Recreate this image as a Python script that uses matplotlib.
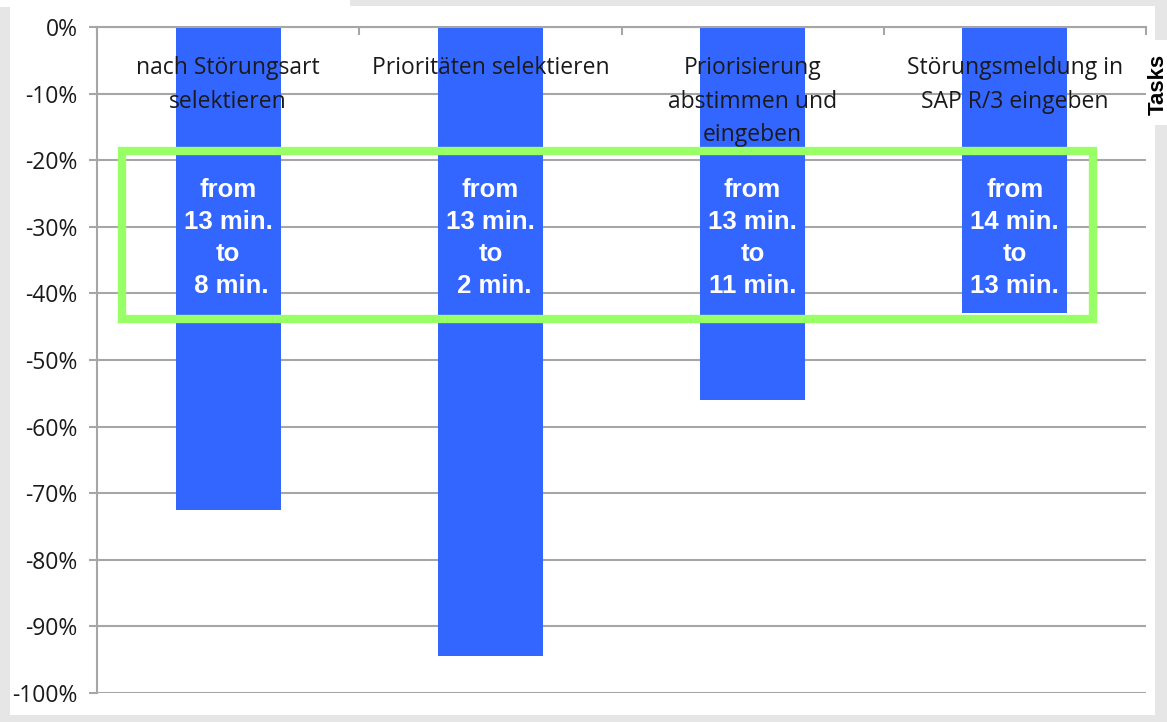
"""Reduction of task durations per task (bar chart with top axis)."""

import matplotlib.pyplot as plt
from matplotlib.patches import Rectangle
from matplotlib.ticker import FuncFormatter

tasks = [
    "nach Störungsart\nselektieren",
    "Prioritäten selektieren",
    "Priorisierung\nabstimmen und\neingeben",
    "Störungsmeldung in\nSAP R/3 eingeben",
]
change_pct = [-72.5, -94.5, -56, -43]
bar_notes = [
    "from\n13 min.\nto\n 8 min.",
    "from\n13 min.\nto\n 2 min.",
    "from\n13 min.\nto\n11 min.",
    "from\n14 min.\nto\n13 min.",
]
y_ticks = list(range(0, -101, -10))

BAR_COLOR = "#3366ff"
GRID_COLOR = "#a6a6a6"
FRAME_COLOR = "#99ff66"


def main() -> None:
    fig = plt.figure(figsize=(11.67, 7.22), dpi=100, facecolor="#e6e6e6")

    # white chart panel and the top-left strip of the screenshot
    fig.patches.append(Rectangle((10 / 1167, 7 / 722), 1145 / 1167, 709 / 722,
                                 transform=fig.transFigure, facecolor="white",
                                 edgecolor="none", zorder=-10))
    fig.patches.append(Rectangle((0, 715 / 722), 350 / 1167, 7 / 722,
                                 transform=fig.transFigure, facecolor="white",
                                 edgecolor="none", zorder=-10))
    fig.patches.append(Rectangle((1150 / 1167, 1 - 125 / 722), 17 / 1167, 85 / 722,
                                 transform=fig.transFigure, facecolor="white",
                                 edgecolor="none", zorder=-10))

    ax = fig.add_axes([97 / 1167, 1 - 693 / 722, 1049 / 1167, 666 / 722])
    ax.set_facecolor("white")

    x = list(range(len(tasks)))
    ax.bar(x, change_pct, width=0.4, color=BAR_COLOR, zorder=2)

    ax.set_xlim(-0.5, len(tasks) - 0.5)
    ax.set_ylim(-100, 0)
    ax.set_yticks(y_ticks)
    ax.yaxis.set_major_formatter(FuncFormatter(lambda v, _: f"{v:.0f}%"))
    ax.grid(axis="y", color=GRID_COLOR, linewidth=1.5, zorder=1)
    ax.set_axisbelow(True)

    ax.xaxis.tick_top()
    ax.set_xticks([i - 0.5 for i in range(len(tasks) + 1)])
    ax.set_xticklabels([])
    ax.tick_params(axis="x", direction="in", length=6, width=1.5, color=GRID_COLOR)
    ax.tick_params(axis="y", direction="out", length=6, width=1.5, color=GRID_COLOR,
                   labelsize=16.5, pad=8, labelcolor="#1a1a1a")
    for lbl in ax.get_yticklabels():
        lbl.set_fontfamily("Open Sans")

    for side in ["right", "bottom"]:
        ax.spines[side].set_visible(False)
    for side in ["left", "top"]:
        ax.spines[side].set_color(GRID_COLOR)
        ax.spines[side].set_linewidth(1.5)

    for i, name in enumerate(tasks):
        ax.text(i, -4.3, name, ha="center", va="top", fontsize=16.5,
                family="Open Sans", color="#1a1a1a", linespacing=1.55, zorder=3)
        ax.text(i, -22.7, bar_notes[i], ha="center", va="top", fontsize=18.5,
                family="Liberation Sans", fontweight="bold", color="white",
                linespacing=1.41, zorder=3)

    ax.add_patch(Rectangle((-0.405, -43.9), 3.703, 25.3, fill=False,
                           edgecolor=FRAME_COLOR, linewidth=6, zorder=4,
                           clip_on=False))

    fig.text(1158 / 1167, 1 - 84 / 722, "Tasks", rotation=90, ha="center",
             va="center", fontsize=16, fontweight="bold", family="Liberation Sans")

    fig.savefig("out.png", dpi=100, facecolor=fig.get_facecolor())
    plt.close(fig)


if __name__ == "__main__":
    main()
